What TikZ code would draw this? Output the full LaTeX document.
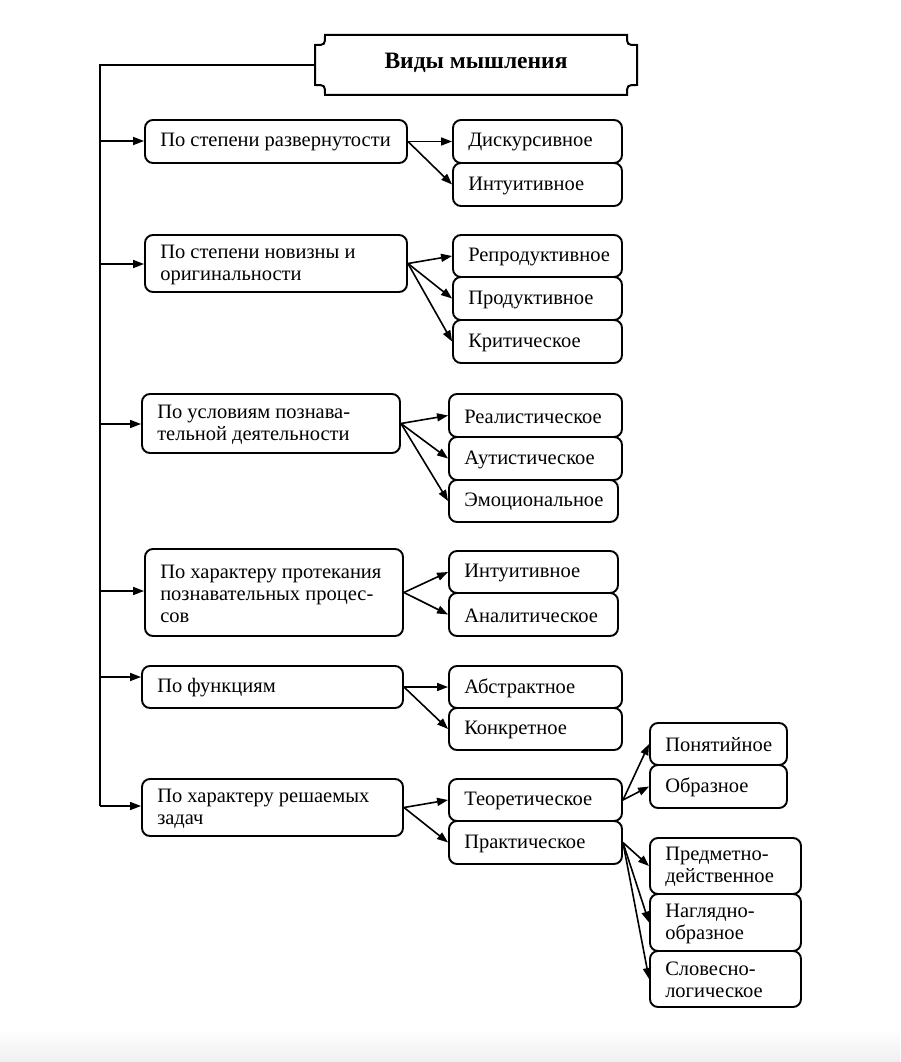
\documentclass[tikz,border=0pt]{standalone}
\usepackage{fontspec}
\setmainfont{Liberation Serif}
\usetikzlibrary{arrows.meta,calc}
\tikzset{
  box/.style={draw, line width=1.9pt, rounded corners=8pt, inner sep=0pt},
  txt/.style={align=left, inner sep=0pt, font=\fontsize{20.5}{22}\selectfont},
  arr/.style={-{Triangle[length=11pt,width=8pt]}, line width=1.6pt},
  ln/.style={line width=1.8pt},
}
\newcommand\bx[6]{%
  \node[box, minimum width={#4-#2}, minimum height={#5-#3}] (#1) at ({(#2+#4)/2},{(#3+#5)/2}) {};
  \node[txt, anchor=west] (#1t) at ([xshift=16pt,yshift=-1pt]#1.west) {#6};}
\begin{document}
\begin{tikzpicture}[x=1pt,y=-1pt]
\useasboundingbox (0,0) rectangle (900,1062);
\fill[white] (0,0) rectangle (900,1062);
\shade[top color=white, bottom color=black!6] (0,1028) rectangle (900,1062);

% title box with concave corners
\draw[line width=2pt] (325,35) -- (627,35) .. controls (627,45) .. (637,45)
  -- (637,85) .. controls (627,85) .. (627,95) -- (325,95)
  .. controls (325,85) .. (315,85) -- (315,45) .. controls (325,45) .. (325,35) -- cycle;
\node[minimum width=322pt, minimum height=60pt, inner sep=0pt,
  font=\bfseries\fontsize{23.5}{26}\selectfont] (T) at (476,63) {Виды мышления};

% level 1
\bx{L1}{145}{120}{407}{163}{По степени развернутости}
\bx{L2}{145}{235}{407}{292}{По степени новизны и\\оригинальности}
\bx{L3}{142}{394}{400}{453}{По условиям познава-\\тельной деятельности}
\bx{L4}{145}{549}{403}{636}{По характеру протекания\\познавательных процес-\\сов}
\bx{L5}{142}{666}{403}{708}{По функциям}
\bx{L6}{142}{779}{403}{836}{По характеру решаемых\\задач}

% level 2
\bx{a1}{453}{120}{622}{163}{Дискурсивное}
\bx{a2}{453}{163}{622}{206}{Интуитивное}
\bx{b1}{453}{235}{622}{277}{Репродуктивное}
\bx{b2}{453}{277}{622}{320}{Продуктивное}
\bx{b3}{453}{320}{622}{363}{Критическое}
\bx{c1}{449}{394}{622}{437}{Реалистическое}
\bx{c2}{449}{437}{622}{480}{Аутистическое}
\bx{c3}{449}{480}{618}{522}{Эмоциональное}
\bx{d1}{449}{551}{618}{593}{Интуитивное}
\bx{d2}{449}{593}{618}{636}{Аналитическое}
\bx{e1}{449}{666}{622}{708}{Абстрактное}
\bx{e2}{449}{708}{622}{750}{Конкретное}
\bx{f1}{449}{779}{622}{821}{Теоретическое}
\bx{f2}{449}{821}{622}{864}{Практическое}

% level 3
\bx{g1}{650}{723}{787}{765}{Понятийное}
\bx{g2}{650}{765}{787}{808}{Образное}
\bx{h1}{650}{838}{801}{894}{Предметно-\\действенное}
\bx{h2}{650}{894}{801}{951}{Наглядно-\\образное}
\bx{h3}{650}{951}{801}{1007}{Словесно-\\логическое}

% spine
\coordinate (s0) at (100,65);
\coordinate (s1) at (100,141);
\coordinate (s2) at (100,264);
\coordinate (s3) at (100,424);
\coordinate (s4) at (100,591);
\coordinate (s5) at (100,677);
\coordinate (s6) at (100,806);
\draw[ln] (s0 -| T.west) -- (s0) -- (s6);
\foreach \i in {1,...,6} {\draw[arr] (s\i) -- (s\i -| L\i.west);}

% level 1 -> level 2
\foreach \t in {a1,a2} {\draw[arr] (L1.east) -- (\t.west);}
\foreach \t in {b1,b2,b3} {\draw[arr] (L2.east) -- (\t.west);}
\foreach \t in {c1,c2,c3} {\draw[arr] (L3.east) -- (\t.west);}
\foreach \t in {d1,d2} {\draw[arr] (L4.east) -- (\t.west);}
\foreach \t in {e1,e2} {\draw[arr] (L5.east) -- (\t.west);}
\foreach \t in {f1,f2} {\draw[arr] (L6.east) -- (\t.west);}
% level 2 -> level 3
\foreach \t in {g1,g2} {\draw[arr] (f1.east) -- (\t.west);}
\foreach \t in {h1,h2,h3} {\draw[arr] (f2.east) -- (\t.west);}
\end{tikzpicture}
\end{document}
